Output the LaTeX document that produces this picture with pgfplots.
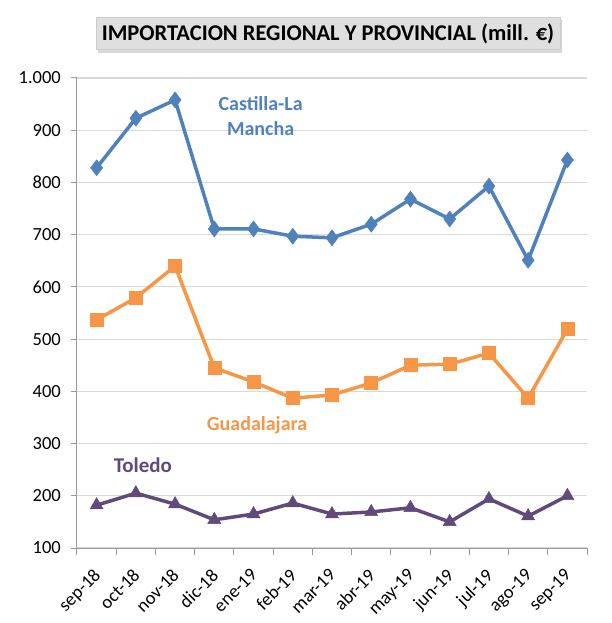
\documentclass[border=0pt]{standalone}
\usepackage{pgfplots}
\pgfplotsset{compat=1.18}
\usepackage{fontspec}
\setmainfont{Carlito}
\usetikzlibrary{shadows}
\definecolor{clm}{HTML}{4F81BD}
\definecolor{gua}{HTML}{F79646}
\definecolor{tol}{HTML}{604A7B}
\begin{document}
\begin{tikzpicture}[x=1pt,y=1pt]
\useasboundingbox (-77,-75) rectangle (534,548);
\begin{axis}[
  at={(0,0)}, anchor=south west,
  scale only axis, width=510pt, height=470pt,
  xmin=-0.5, xmax=12.5, ymin=100, ymax=1000,
  ytick={100,200,...,1000},
  xtick={0,...,12},
  xticklabels={sep-18,oct-18,nov-18,dic-18,ene-19,feb-19,mar-19,abr-19,may-19,jun-19,jul-19,ago-19,sep-19},
  minor xtick={-0.5,0.5,...,12.5},
  x tick label style={xshift=-4pt, yshift=-12pt, rotate=45, anchor=north east, font=\fontsize{18.5}{18.5}\selectfont, inner sep=1pt},
  y tick label style={font=\fontsize{18.5}{18.5}\selectfont, inner sep=1pt, xshift=-9pt},
  /pgf/number format/assume math mode=true,
  /pgf/number format/.cd, 1000 sep={.}, /pgfplots/.cd,
  axis lines*=left,
  axis line style={draw=gray!80, line width=1pt},
  ymajorgrids, grid style={draw=gray!30, line width=1.2pt},
  major x tick style={draw=none},
  minor x tick style={draw=gray!80, line width=1pt},
  major y tick style={draw=gray!80, line width=1pt},
  tick align=outside,
  major tick length=6pt, minor tick length=7pt,
  clip=false,
]
\addplot[clm, line width=3.5pt, mark=diamond*, mark size=8pt, mark options={solid, fill=clm, line width=0.5pt}] coordinates {
(0,828) (1,923) (2,958) (3,711) (4,711) (5,697) (6,694) (7,720) (8,768) (9,730) (10,793) (11,651) (12,843)};
\addplot[gua, line width=3.5pt, mark=square*, mark size=6.5pt, mark options={solid, fill=gua, line width=0.5pt}] coordinates {
(0,537) (1,579) (2,640) (3,445) (4,418) (5,387) (6,393) (7,416) (8,450) (9,452) (10,473) (11,387) (12,519)};
\addplot[tol, line width=3.5pt, mark=triangle*, mark size=7.5pt, mark options={solid, fill=tol, line width=0.5pt}] coordinates {
(0,182) (1,205) (2,184) (3,154) (4,165) (5,186) (6,165) (7,169) (8,177) (9,150) (10,194) (11,161) (12,200)};
\node[clm, font=\fontsize{20}{25}\selectfont\bfseries, align=center] at (axis cs:4.18,927) {Castilla-La\\Mancha};
\node[gua, font=\fontsize{20}{23}\selectfont\bfseries] at (axis cs:4.09,336) {Guadalajara};
\node[tol, font=\fontsize{21}{23}\selectfont\bfseries] at (axis cs:1.18,259) {Toledo};
\end{axis}
\node[fill=gray!25, draw=gray!40, line width=0.5pt, drop shadow={shadow xshift=2pt, shadow yshift=-3pt, fill=gray!60}, font=\fontsize{22.5}{24}\selectfont\bfseries, inner xsep=6pt, inner ysep=6pt] at (251,514.5) {IMPORTACION REGIONAL Y PROVINCIAL (mill. €)};
\end{tikzpicture}
\end{document}
